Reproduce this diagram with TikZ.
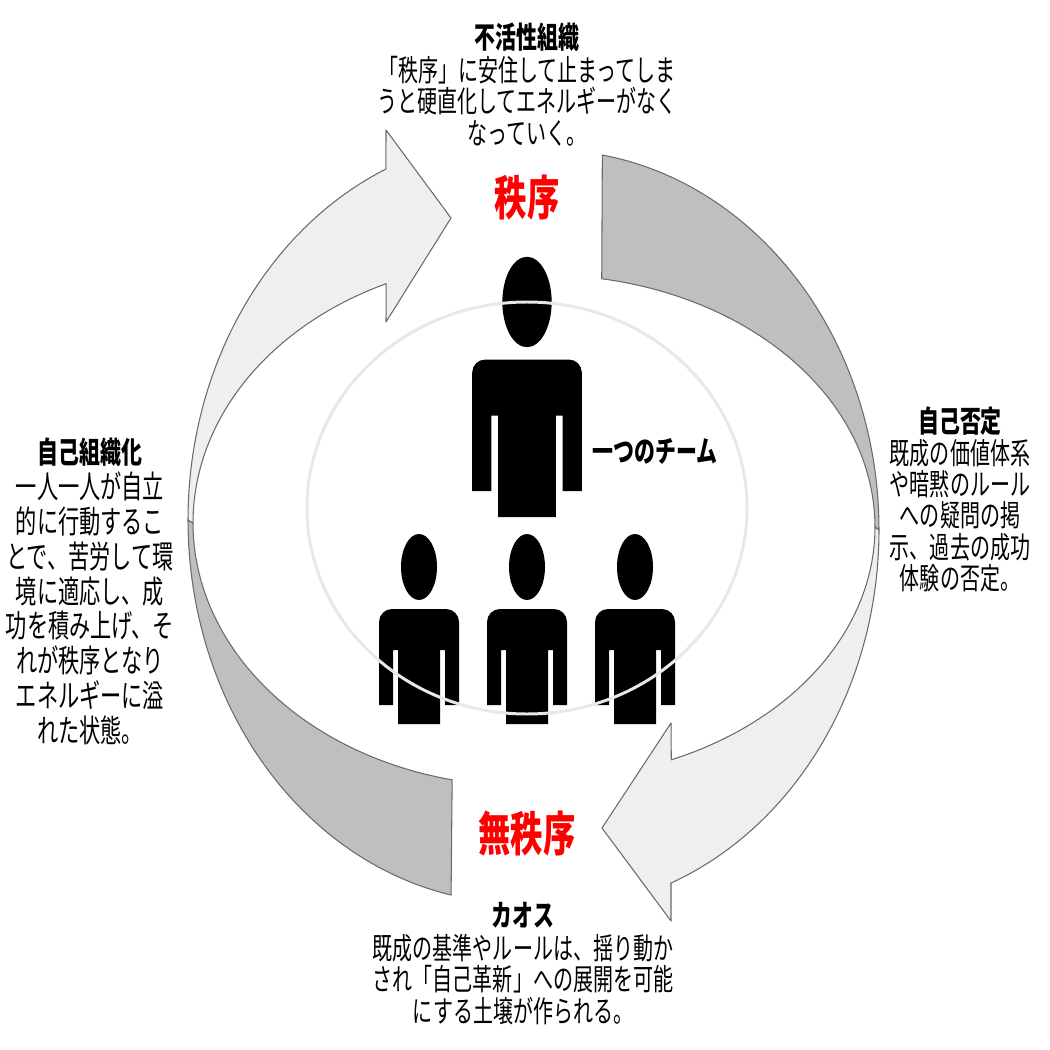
\documentclass[tikz,border=0pt]{standalone}
\usepackage{fontspec}
\newfontfamily\jp[FakeStretch=0.67]{Noto Sans CJK JP}
\newfontfamily\jpt[FakeStretch=0.7]{Noto Sans CJK JP}
\newfontfamily\jpred[FakeStretch=0.68]{Noto Sans CJK JP}
\definecolor{darkband}{HTML}{BFBFBF}
\definecolor{lightband}{HTML}{EFEFEF}
\definecolor{bandline}{HTML}{6A6A6A}
\tikzset{
  band/.style={draw=bandline, line width=0.6pt, line join=round},
  txt/.style={align=center, inner sep=0pt, font=\jp\fontsize{17pt}{17.8pt}\selectfont},
  ttl/.style={inner sep=0pt, font=\jpt\bfseries\fontsize{17pt}{18pt}\selectfont},
  redttl/.style={inner sep=0pt, text=red, font=\jpred\bfseries\fontsize{27pt}{30pt}\selectfont},
  ring/.style={draw=black!9, line width=1.7pt},
}
\newcommand\personfig[3]{%
  \begin{scope}[shift={(#1,#2)}, scale=#3]
    \fill (0,0) ellipse [x radius=18, y radius=33];
    \fill (-21,157) -- (-21,83) -- (-26,83) -- (-26,138) -- (-40,138)
      [rounded corners=2.6mm] -- (-40,42) -- (40,42) [sharp corners] -- (40,138)
      -- (26,138) -- (26,83) -- (21,83) -- (21,157) -- cycle;
  \end{scope}}
\begin{document}
\begin{tikzpicture}[x=0.02cm, y=-0.02cm]
\useasboundingbox (0,0) rectangle (1050,1050);
\fill[white] (0,0) rectangle (1050,1050);
% right arrow: dark part
\filldraw[band, fill=darkband]
  plot[domain=80.7:0, samples=60] ({549+330*cos(\x)},{530-380*sin(\x)})
  -- plot[domain=0:80.1, samples=60] ({545+330*cos(\x)},{527-252*sin(\x)}) -- cycle;
% right arrow: light part with head
\filldraw[band, fill=lightband]
  plot[domain=0:-68.3, samples=60] ({549+330*cos(\x)},{530-380*sin(\x)})
  -- (671,921) -- (602,828) -- (671,723)
  -- plot[domain=-67.5:0, samples=60] ({545+330*cos(\x)},{527-252*sin(\x)}) -- cycle;
% left arrow: dark part
\filldraw[band, fill=darkband]
  plot[domain=180:258.3, samples=60] ({518+330*cos(\x)},{520-383*sin(\x)})
  -- plot[domain=257.6:180, samples=60] ({523+330*cos(\x)},{523-263*sin(\x)}) -- cycle;
% left arrow: light part with head
\filldraw[band, fill=lightband]
  plot[domain=180:113.6, samples=60] ({518+330*cos(\x)},{520-383*sin(\x)})
  -- (386,130) -- (451,218) -- (386,322)
  -- plot[domain=114.5:180, samples=60] ({523+330*cos(\x)},{523-263*sin(\x)}) -- cycle;
% people
\personfig{527}{302}{1.37}
\personfig{419}{567}{1}
\personfig{527}{567}{1}
\personfig{635}{567}{1}
\draw[ring] (527,508) ellipse [x radius=220, y radius=206];
% texts
\node[ttl] (t1) at (527,37) {不活性組織};
\node[txt, anchor=north] (b1) at (527,56) {「秩序」に安住して止まってしま\\うと硬直化してエネルギーがなく\\なっていく。};
\node[redttl] (r1) at (527,198) {秩序};
\node[redttl] (r2) at (527,834) {無秩序};
\node[ttl] (team) at (655,451) {一つのチーム};
\node[ttl] (t2) at (960,421) {自己否定};
\node[txt, anchor=north] (b2) at (960,439) {既成の価値体系\\や暗黙のルール\\への疑問の掲\\示、過去の成功\\体験の否定。};
\node[ttl] (t3) at (90,452) {自己組織化};
\node[txt, anchor=north, font=\jp\fontsize{18pt}{19.9pt}\selectfont] (b3) at (90,471) {一人一人が自立\\的に行動するこ\\とで、苦労して環\\境に適応し、成\\功を積み上げ、そ\\れが秩序となり\\エネルギーに溢\\れた状態。};
\node[ttl] (t4) at (523,915) {カオス};
\node[txt, anchor=north] (b4) at (523,934) {既成の基準やルールは、揺り動か\\され「自己革新」への展開を可能\\にする土壌が作られる。};
\end{tikzpicture}
\end{document}
